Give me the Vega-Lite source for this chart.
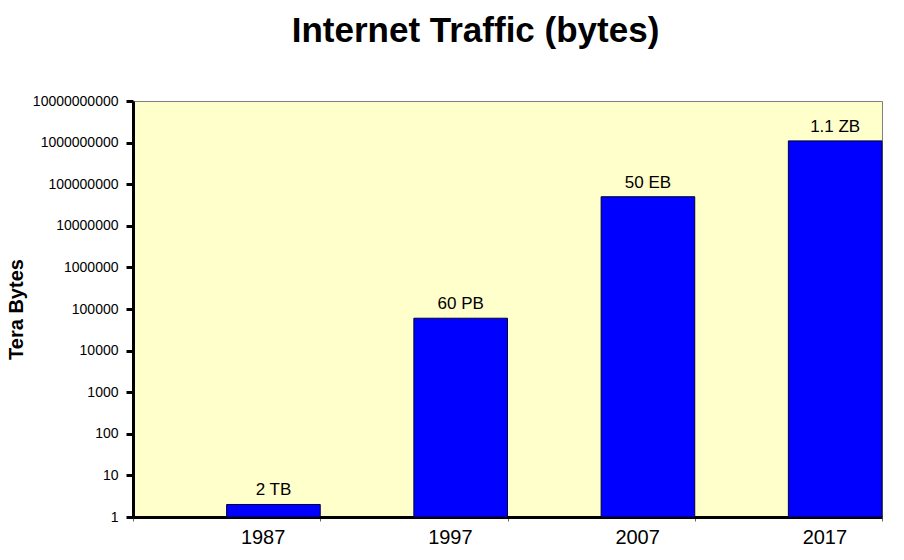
{
  "$schema": "https://vega.github.io/schema/vega-lite/v6.json",
  "width": 749,
  "height": 416,
  "autosize": "none",
  "padding": {"left": 133, "top": 101, "right": 22, "bottom": 43},
  "background": "white",
  "config": {
    "font": "Liberation Sans",
    "view": {"fill": "#FFFFCC", "stroke": "#808080", "strokeWidth": 1}
  },
  "title": {
    "text": "Internet Traffic (bytes)",
    "fontSize": 35,
    "fontWeight": "bold",
    "font": "Liberation Sans",
    "color": "black",
    "anchor": "middle",
    "dx": -32,
    "offset": 45
  },
  "data": {
    "values": [
      {"year": "1987", "value": 2, "label": "2 TB"},
      {"year": "1997", "value": 60000, "label": "60 PB"},
      {"year": "2007", "value": 50000000, "label": "50 EB"},
      {"year": "2017", "value": 1100000000, "label": "1.1 ZB"}
    ]
  },
  "encoding": {
    "x": {
      "field": "year",
      "type": "ordinal",
      "scale": {"paddingInner": 0, "paddingOuter": 0},
      "axis": {
        "title": null,
        "labelAngle": 0,
        "labelFontSize": 20,
        "labelColor": "black",
        "labelOffset": 36,
        "labelPadding": 6,
        "tickBand": "extent",
        "tickSize": 4,
        "tickColor": "#666666",
        "tickWidth": 1,
        "domainColor": "black",
        "domainWidth": 3
      }
    },
    "y": {
      "field": "value",
      "type": "quantitative",
      "scale": {"type": "log", "domain": [1, 10000000000], "nice": false},
      "axis": {
        "title": "Tera Bytes",
        "titleFontSize": 20,
        "titleFontWeight": "bold",
        "titleColor": "black",
        "titlePadding": 6,
        "values": [1, 10, 100, 1000, 10000, 100000, 1000000, 10000000, 100000000, 1000000000, 10000000000],
        "format": "d",
        "labelFontSize": 14,
        "labelColor": "black",
        "labelPadding": 8,
        "tickSize": 7,
        "tickWidth": 3,
        "tickColor": "black",
        "domainColor": "black",
        "domainWidth": 3,
        "grid": false
      }
    }
  },
  "layer": [
    {
      "mark": {
        "type": "bar",
        "color": "#0000FF",
        "stroke": "#000033",
        "strokeWidth": 1,
        "width": {"band": 0.5},
        "xOffset": 46.8
      },
      "encoding": {"y2": {"datum": 1}}
    },
    {
      "mark": {
        "type": "text",
        "fontSize": 17,
        "color": "black",
        "baseline": "bottom",
        "dy": -5,
        "xOffset": 46.8
      },
      "encoding": {"text": {"field": "label"}}
    }
  ]
}
